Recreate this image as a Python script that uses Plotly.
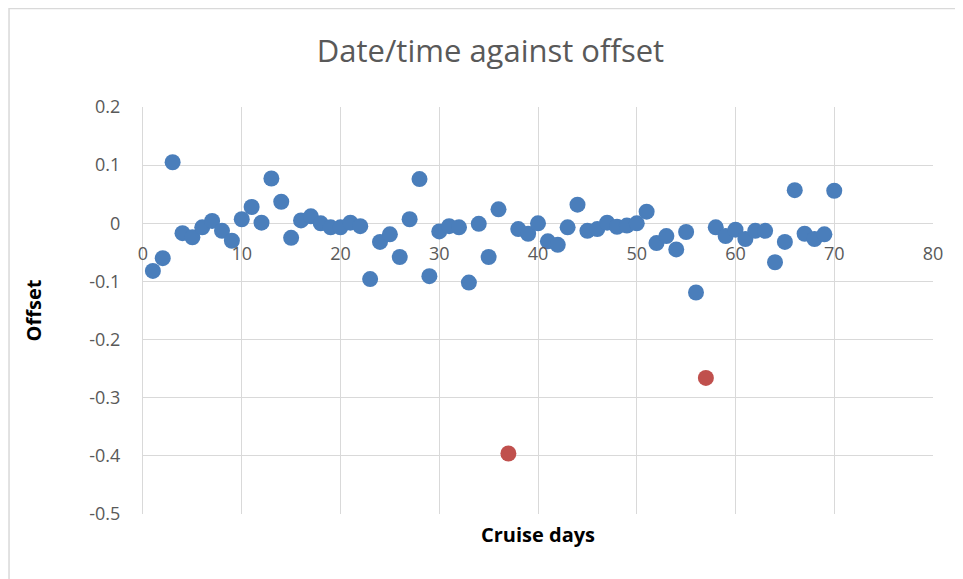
import plotly.graph_objects as go

# Cruise day numbers and measured offsets
days = [1, 2, 3, 4, 5, 6, 7, 8, 9, 10, 11, 12, 13, 14, 15, 16, 17, 18, 19, 20,
        21, 22, 23, 24, 25, 26, 27, 28, 29, 30, 31, 32, 33, 34, 35, 36, 38, 39,
        40, 41, 42, 43, 44, 45, 46, 47, 48, 49, 50, 51, 52, 53, 54, 55, 56, 58,
        59, 60, 61, 62, 63, 64, 65, 66, 67, 68, 69, 70]
offsets = [-0.082, -0.060, 0.105, -0.017, -0.024, -0.007, 0.004, -0.013, -0.030,
           0.007, 0.028, 0.001, 0.077, 0.037, -0.025, 0.005, 0.012, 0.000,
           -0.007, -0.007, 0.001, -0.005, -0.096, -0.032, -0.019, -0.058, 0.007,
           0.076, -0.091, -0.014, -0.005, -0.007, -0.102, -0.001, -0.058, 0.024,
           -0.010, -0.018, 0.000, -0.031, -0.037, -0.007, 0.032, -0.013, -0.010,
           0.001, -0.006, -0.004, 0.000, 0.020, -0.034, -0.022, -0.045, -0.015,
           -0.119, -0.007, -0.022, -0.011, -0.027, -0.013, -0.013, -0.067,
           -0.032, 0.057, -0.018, -0.027, -0.019, 0.056]

# Outliers highlighted in red
outlier_days = [37, 57]
outlier_offsets = [-0.396, -0.266]

x_ticks = [0, 10, 20, 30, 40, 50, 60, 70, 80]
y_ticks = [0.2, 0.1, 0, -0.1, -0.2, -0.3, -0.4, -0.5]

FONT = "'Open Sans', Lato, sans-serif"
GRID = "#d9d9d9"
TXT = "#595959"

fig = go.Figure()

fig.add_trace(go.Scatter(
    x=days, y=offsets, mode="markers",
    marker=dict(size=16, color="#4a7ebb"),
    showlegend=False
))
fig.add_trace(go.Scatter(
    x=outlier_days, y=outlier_offsets, mode="markers",
    marker=dict(size=16, color="#c0504d"),
    showlegend=False
))

# invisible trace so the x tick labels can sit on the y=0 crossing
fig.add_trace(go.Scatter(x=[0, 80], y=[0, 0], mode="markers",
                         marker=dict(opacity=0), xaxis="x2",
                         showlegend=False, hoverinfo="skip"))

ymin, ymax = -0.5, 0.2

# page body adds 8px, margins are shifted to compensate
fig.update_layout(
    width=963, height=579,
    margin=dict(l=135, r=38, t=99, b=73),
    paper_bgcolor="white", plot_bgcolor="white",
    font=dict(family=FONT, color=TXT),
    title=dict(text="Date/time against offset", x=0.501, xanchor="center",
               y=0.925, yanchor="middle",
               font=dict(size=31, color=TXT, family=FONT)),
    xaxis=dict(range=[0, 80], tickvals=x_ticks, showticklabels=False,
               showgrid=True, gridcolor=GRID, gridwidth=1, zeroline=False,
               showline=False,
               title=dict(text="<b>Cruise days</b>", standoff=13,
                          font=dict(size=20, color="black", family=FONT))),
    xaxis2=dict(range=[0, 80], tickvals=x_ticks, overlaying="x",
                anchor="free", position=(0 - ymin) / (ymax - ymin),
                side="bottom", showgrid=False, zeroline=False, showline=False,
                ticks="", ticklabelstandoff=18,
                tickfont=dict(size=18, color=TXT, family=FONT)),
    yaxis=dict(range=[ymin, ymax], tickvals=y_ticks,
               ticktext=[f"{v:g}" for v in y_ticks],
               showgrid=True, gridcolor=GRID, gridwidth=1, zeroline=False,
               showline=True, linecolor=GRID, linewidth=1, ticks="",
               ticklabelstandoff=18,
               tickfont=dict(size=18, color=TXT, family=FONT),
               title=dict(text="<b>Offset</b>", standoff=42,
                          font=dict(size=20, color="black", family=FONT))),
)

# light chart frame
fig.add_shape(type="rect", xref="paper", yref="paper",
              x0=-0.1696, x1=1.2, y0=-0.4, y1=1.242,
              line=dict(color=GRID, width=1.5), layer="below")

fig.write_html("out.html")
